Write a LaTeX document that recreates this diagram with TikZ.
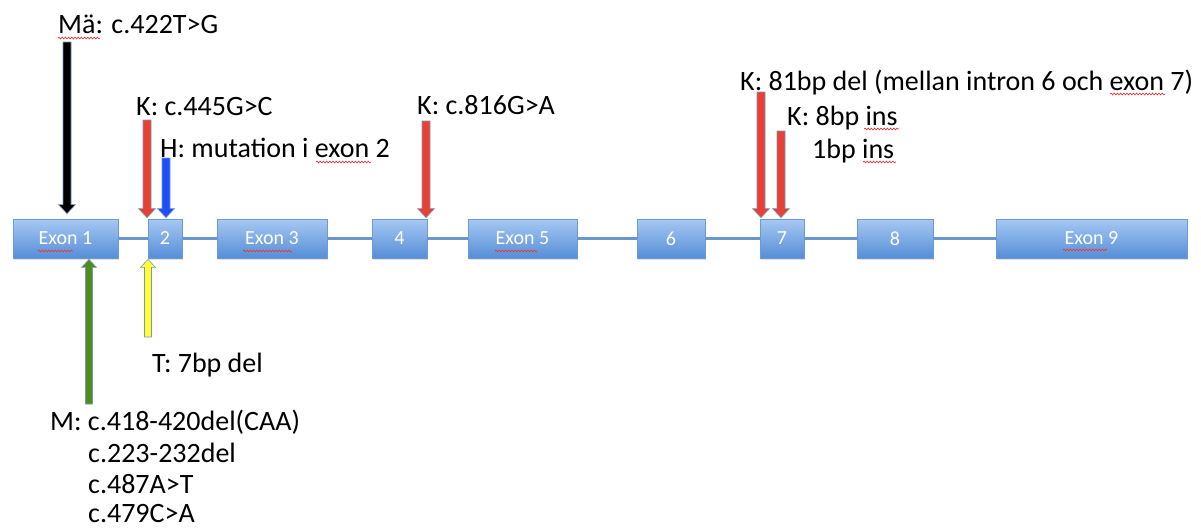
\documentclass[tikz,border=0pt]{standalone}
\usepackage{fontspec}
\setmainfont{Carlito}
\usetikzlibrary{calc,shadows,decorations.pathmorphing}
\definecolor{boxtop}{RGB}{166,200,244}
\definecolor{boxbot}{RGB}{86,142,214}
\definecolor{boxedge}{RGB}{108,154,212}
\definecolor{intron}{RGB}{104,150,205}
\definecolor{arrowedge}{RGB}{120,150,190}
\definecolor{mred}{RGB}{232,64,50}
\definecolor{mblue}{RGB}{30,78,250}
\definecolor{mgreen}{RGB}{78,140,30}
\definecolor{myellow}{RGB}{255,255,50}
\definecolor{spellred}{RGB}{225,60,60}
\tikzset{
  x=1pt, y=-1pt,
  exon/.style={rectangle, top color=boxtop, bottom color=boxbot, draw=boxedge, line width=0.8pt,
    minimum height=39pt, inner sep=0pt, text=white, font=\fontsize{20}{20}\selectfont,
    drop shadow={shadow xshift=1pt, shadow yshift=-2pt, opacity=0.25}},
  intronline/.style={draw=intron, line width=2.8pt},
  lbl/.style={anchor=base west, inner sep=0pt, font=\fontsize{28}{28}\selectfont},
  blk/.style={draw=arrowedge, line width=0.6pt, line join=miter},
  spell/.style={draw=spellred, line width=0.7pt, decorate,
    decoration={snake, segment length=3.2pt, amplitude=0.9pt}}
}
\newcommand\mutdown[3]{\filldraw[blk, fill=#3] ($(#1)+(-4,0)$) -- ($(#2)+(-4,-9)$) -- ($(#2)+(-8.5,-9)$) -- (#2) -- ($(#2)+(8.5,-9)$) -- ($(#2)+(4,-9)$) -- ($(#1)+(4,0)$) -- cycle;}
\newcommand\mutup[3]{\filldraw[blk, fill=#3] ($(#1)+(-3.5,0)$) -- ($(#2)+(-3.5,8)$) -- ($(#2)+(-7.5,8)$) -- (#2) -- ($(#2)+(7.5,8)$) -- ($(#2)+(3.5,8)$) -- ($(#1)+(3.5,0)$) -- cycle;}
\begin{document}
\begin{tikzpicture}
\useasboundingbox (0,0) rectangle (1201,528);
% exons
\node[exon, minimum width=105pt] (e1) at (65.5,238.5) {Exon 1};
\node[exon, minimum width=34pt]  (e2) at (165,238.5) {2};
\node[exon, minimum width=110pt] (e3) at (272,238.5) {Exon 3};
\node[exon, minimum width=55pt]  (e4) at (399.5,238.5) {4};
\node[exon, minimum width=109pt] (e5) at (522.5,238.5) {Exon 5};
\node[exon, minimum width=68pt]  (e6) at (671,238.5) {6};
\node[exon, minimum width=44pt]  (e7) at (782,238.5) {7};
\node[exon, minimum width=76pt]  (e8) at (895,238.5) {8};
\node[exon, minimum width=191pt] (e9) at (1091.5,238.5) {Exon 9};
% introns
\draw[intronline] (e1.east) -- (e2.west);
\draw[intronline] (e2.east) -- (e3.west);
\draw[intronline] (e3.east) -- (e4.west);
\draw[intronline] (e4.east) -- (e5.west);
\draw[intronline] (e5.east) -- (e6.west);
\draw[intronline] (e6.east) -- (e7.west);
\draw[intronline] (e7.east) -- (e8.west);
\draw[intronline] (e8.east) -- (e9.west);
% labels
\node[lbl] (tMa) at (58,33) {Mä: c.422T>G};
\node[lbl] (tK1) at (136,115) {K: c.445G>C};
\node[lbl] (tH)  at (160,157) {H: mutation i exon 2};
\node[lbl] (tK2) at (417,114) {K: c.816G>A};
\node[lbl] (tK3) at (740,90) {K: 81bp del (mellan intron 6 och exon 7)};
\node[lbl] (tK4) at (787,125) {K: 8bp ins};
\node[lbl] (tK5) at (812,158) {1bp ins};
\node[lbl] (tT)  at (152,372) {T: 7bp del};
\node[lbl] (tM1) at (50,430) {M: c.418-420del(CAA)};
\node[lbl] (tM2) at (88,462) {c.223-232del};
\node[lbl] (tM3) at (88,493) {c.487A>T};
\node[lbl] (tM4) at (88,522) {c.479C>A};
% arrow tails
\coordinate (aMa) at (67,42);
\coordinate (aK1) at (147,120);
\coordinate (aH)  at (166,158);
\coordinate (aK2) at (426,121);
\coordinate (aK3) at (761,92);
\coordinate (aK4) at (781,131);
\coordinate (aM)  at (89,404);
\coordinate (aT)  at (148,337);
% arrow tips on the exons
\coordinate (pMa) at ($(aMa |- e1.north)+(0,-5)$);
\coordinate (pK1) at ($(aK1 |- e2.north)+(0,-1)$);
\coordinate (pH)  at ($(aH |- e2.north)+(0,-1)$);
\coordinate (pK2) at ($(aK2 |- e4.north)+(0,-1)$);
\coordinate (pK3) at ($(aK3 |- e7.north)+(0,-1)$);
\coordinate (pK4) at ($(aK4 |- e7.north)+(0,-1)$);
\coordinate (pM)  at ($(aM |- e1.south)+(0,1)$);
\coordinate (pT)  at ($(aT |- e2.south)+(0,1)$);
\mutdown{aMa}{pMa}{black}
\mutdown{aK1}{pK1}{mred}
\mutdown{aH}{pH}{mblue}
\mutdown{aK2}{pK2}{mred}
\mutdown{aK3}{pK3}{mred}
\mutdown{aK4}{pK4}{mred}
\mutup{aM}{pM}{mgreen}
\mutup{aT}{pT}{myellow}
% spell-check underlines
\draw[spell] (58,38) -- (100,38);
\draw[spell] (316,162) -- (371,162);
\draw[spell] (1110,94) -- (1165,94);
\draw[spell] (864,129) -- (899,129);
\draw[spell] (863,162) -- (896,162);
\draw[spell] (38,251) -- (73,251);
\draw[spell] (243,251) -- (292,251);
\draw[spell] (495,251) -- (537,251);
\draw[spell] (1063,250) -- (1107,250);
\end{tikzpicture}
\end{document}
